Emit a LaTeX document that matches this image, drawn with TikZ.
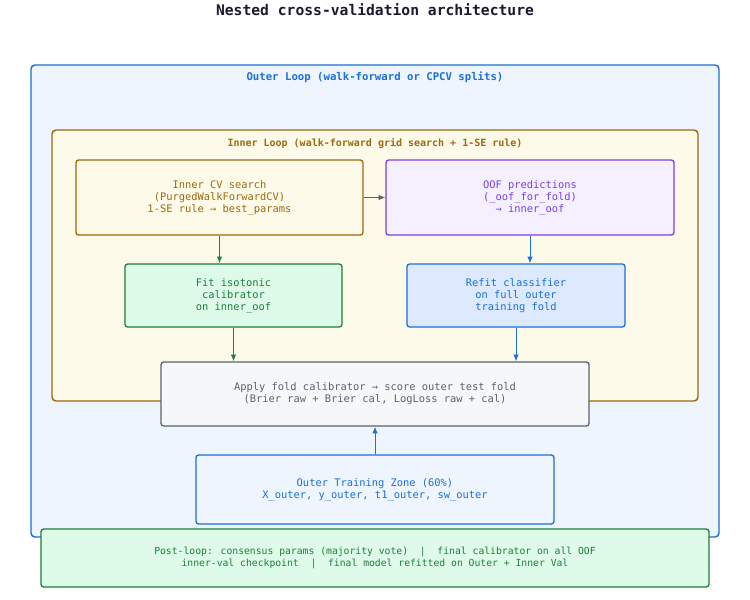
\documentclass[tikz,border=0pt]{standalone}
\usepackage{fontspec}
\setmainfont{DejaVu Sans Mono}
\setmonofont{DejaVu Sans Mono}
\usetikzlibrary{arrows.meta}
\definecolor{cblue}{HTML}{1A6FD8}
\definecolor{cblueF}{HTML}{EEF5FF}
\definecolor{cbrown}{HTML}{9A6A0B}
\definecolor{cbrownF}{HTML}{FEFAEA}
\definecolor{cpurple}{HTML}{7B3FE4}
\definecolor{cpurpleF}{HTML}{F4F0FF}
\definecolor{cgreen}{HTML}{1E7E3A}
\definecolor{cgreenF}{HTML}{DDFBE8}
\definecolor{cgray}{HTML}{5A6270}
\definecolor{cgrayF}{HTML}{F6F7F9}
\definecolor{crefF}{HTML}{DCE9FF}
\definecolor{ctitle}{HTML}{1A1A2E}
\tikzset{
  box/.style={draw, rounded corners=2pt, line width=1pt, align=center,
    font=\fontsize{7.8}{9}\selectfont, inner sep=0pt},
  arr/.style={-{Latex[length=5pt,width=4pt]}, line width=0.7pt}
}
\begin{document}
\begin{tikzpicture}[x=0.75pt,y=-0.75pt]
    \useasboundingbox (0,0) rectangle (750,600);
    % title
    \node[font=\fontsize{11}{13}\bfseries, text=ctitle] (title) at (375,10) {Nested cross-validation architecture};

    % outer and inner loops
    \draw[rounded corners=3pt, line width=1.1pt, draw=cblue, fill=cblueF] (31,65) rectangle (719,537);
    \node[font=\fontsize{8}{9}\bfseries, text=cblue] (outerlbl) at (375,77) {Outer Loop (walk-forward or CPCV splits)};
    \draw[rounded corners=3pt, line width=1.1pt, draw=cbrown, fill=cbrownF] (52,130) rectangle (698,401);
    \node[font=\fontsize{7.5}{9}\bfseries, text=cbrown] (innerlbl) at (375,143) {Inner Loop (walk-forward grid search + 1-SE rule)};

    % boxes
    \node[box, draw=cbrown, fill=cbrownF, text=cbrown, minimum width=287*0.75pt, minimum height=75*0.75pt]
        (cv) at (219.5,197.5) {Inner CV search\\(PurgedWalkForwardCV)\\1-SE rule → best\_params};
    \node[box, draw=cpurple, fill=cpurpleF, text=cpurple, minimum width=288*0.75pt, minimum height=75*0.75pt]
        (oof) at (530,197.5) {OOF predictions\\(\_oof\_for\_fold)\\→ inner\_oof};
    \node[box, draw=cgreen, fill=cgreenF, text=cgreen, minimum width=217*0.75pt, minimum height=63*0.75pt]
        (fit) at (233.5,295.5) {Fit isotonic\\calibrator\\on inner\_oof};
    \node[box, draw=cblue, fill=crefF, text=cblue, minimum width=218*0.75pt, minimum height=63*0.75pt]
        (refit) at (516,295.5) {Refit classifier\\on full outer\\training fold};
    \node[box, draw=cgray, fill=cgrayF, text=cgray, minimum width=428*0.75pt, minimum height=64*0.75pt]
        (apply) at (375,394) {Apply fold calibrator → score outer test fold\\(Brier raw + Brier cal, LogLoss raw + cal)};
    \node[box, draw=cblue, fill=cblueF, text=cblue, minimum width=358*0.75pt, minimum height=69*0.75pt]
        (train) at (375,489.5) {Outer Training Zone (60\%)\\X\_outer, y\_outer, t1\_outer, sw\_outer};
    \node[box, draw=cgreen, fill=cgreenF, text=cgreen, font=\fontsize{7.3}{8.6}\selectfont, minimum width=668*0.75pt, minimum height=58*0.75pt]
        (post) at (375,558) {Post-loop: consensus params (majority vote)~~|~~final calibrator on all OOF\\inner-val checkpoint~~|~~final model refitted on Outer + Inner Val};

    % connectors
    \draw[arr, draw=cgray] (cv) -- (oof);
    \draw[arr, draw=cgreen] (cv) -- (fit.north -| cv);
    \draw[arr, draw=cblue] (oof) -- (refit.north -| oof);
    \draw[arr, draw=cgreen] (fit) -- (apply.north -| fit);
    \draw[arr, draw=cblue] (refit) -- (apply.north -| refit);
    \draw[arr, draw=cblue] (train) -- (apply);
\end{tikzpicture}
\end{document}
